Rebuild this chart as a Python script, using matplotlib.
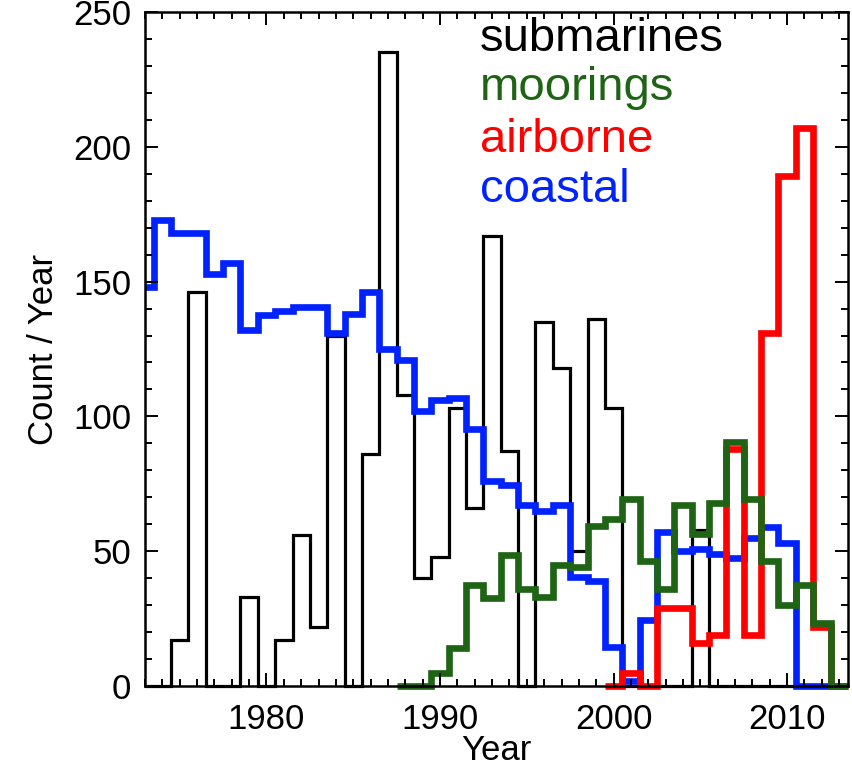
import numpy as np
import matplotlib.pyplot as plt

plt.rcParams['font.family'] = ['Liberation Sans', 'DejaVu Sans']

# yearly counts, one value per calendar year
sub_years = np.arange(1973, 2014)
submarines = [0, 0, 17, 146, 0, 0, 33, 0, 17, 56,
              22, 130, 0, 86, 235, 108, 40, 48, 103, 66,
              167, 87, 0, 135, 118, 50, 136, 103, 0, 0,
              0, 0, 58, 0, 0, 0, 0, 0, 0, 0, 0]

coast_years = np.arange(1973, 2013)
coastal = [148, 173, 168, 168, 153, 157, 132, 137.5, 139, 140.5,
           140.5, 131, 138, 146, 125, 121, 102, 106, 107, 95.5,
           76, 74.5, 67, 65, 67, 40.5, 39, 14.5, 2, 24.5,
           57, 50, 51, 49, 47.5, 55, 59, 53, 0, 0]

air_years = np.arange(2000, 2014)
airborne = [0, 5, 0, 29, 29, 16, 19, 88, 19, 131, 189, 207, 22, 0]

moor_years = np.arange(1988, 2014)
moorings = [0, 0, 5, 14, 37.5, 32.5, 48.5, 36, 33, 45,
            44, 59.5, 62, 69.5, 46.5, 36, 67, 56.5, 68, 90.5,
            69.5, 46.5, 30, 37.5, 23.5, 0]

xmin, xmax = 1973, 2013.5

fig = plt.figure(figsize=(8.53, 7.73), dpi=100)
ax = fig.add_axes([0.170, 0.1125, 0.824, 0.872])


def hist_line(years, vals, color, lw):
    edges = np.append(years - 0.5, years[-1] + 0.5)
    edges = np.clip(edges, xmin, xmax)
    ax.stairs(vals, edges, baseline=None, color=color, lw=lw, fill=False,
              joinstyle='miter', clip_on=False)


hist_line(sub_years, submarines, 'black', 2.3)
hist_line(coast_years, coastal, '#0022ff', 4.8)
hist_line(air_years, airborne, '#ff0000', 4.8)
hist_line(moor_years, moorings, '#1e6414', 4.8)

ax.set_xlim(xmin, xmax)
ax.set_ylim(0, 250)
ax.set_xticks([1980, 1990, 2000, 2010])
ax.set_xticks(np.arange(1973, 2014), minor=True)
ax.set_yticks(np.arange(0, 251, 50))
ax.set_yticks(np.arange(0, 251, 10), minor=True)
ax.tick_params(which='both', direction='in', top=True, right=True,
               width=1.4, labelsize=25)
ax.tick_params(which='major', length=9.5)
ax.tick_params(which='minor', length=5)
ax.tick_params(axis='x', pad=12)
ax.tick_params(axis='y', pad=10)
for s in ax.spines.values():
    s.set_linewidth(1.8)

ax.set_xlabel('Year', fontsize=25, labelpad=-1)
ax.set_ylabel('Count / Year', fontsize=25, labelpad=9)

labels = ['submarines', 'moorings', 'airborne', 'coastal']
label_colors = ['black', '#1e6414', '#ff0000', '#0022ff']
label_y = [235.5, 217.5, 198, 179.5]
for txt, c, yy in zip(labels, label_colors, label_y):
    ax.text(1992.3, yy, txt, color=c, fontsize=34, va='baseline')

fig.savefig('out.png', dpi=100)
